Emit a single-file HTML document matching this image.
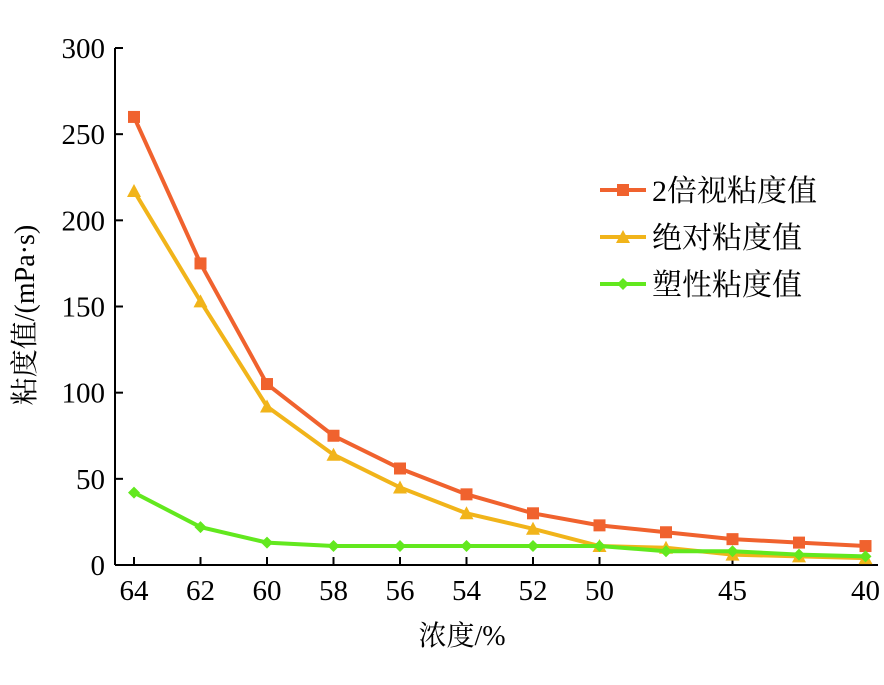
<!DOCTYPE html>
<html><head><meta charset="utf-8"><style>
body{margin:0;background:#fff}
svg text{font-family:"Liberation Serif","Noto Serif CJK SC",serif;fill:#000}
</style></head><body>
<svg id="c" width="884" height="680"></svg>
<script>
const categories=["64","62","60","58","56","54","52","50","47.5","45","42.5","40"];
const xTickLabels=["64","62","60","58","56","54","52","50","","45","","40"];
const yTicks=[0,50,100,150,200,250,300];
const apparent2x=[260,175,105,75,56,41,30,23,19,15,13,11];
const absolute=[217,153,92,64,45,30,21,11,10,6,5,4];
const plastic=[42,22,13,11,11,11,11,11,8,8,6,5];
const seriesNames=["2倍视粘度值","绝对粘度值","塑性粘度值"];
const NS="http://www.w3.org/2000/svg";
const svg=document.getElementById('c');
function el(t,a,p){const e=document.createElementNS(NS,t);for(const k in a)e.setAttribute(k,a[k]);(p||svg).appendChild(e);return e;}
const x0=134,dx=66.5,yBase=565,yTop=48;
const X=i=>x0+i*dx;
const Y=v=>yBase-(v/300)*(yBase-yTop);
let ax=el('line',{x1:115,y1:yTop,x2:115,y2:yBase,stroke:'#000','stroke-width':2});

let bx=el('line',{x1:115,y1:yBase,x2:878,y2:yBase,stroke:'#000','stroke-width':2});

yTicks.forEach(v=>{
 el('line',{x1:115,y1:Y(v),x2:123,y2:Y(v),stroke:'#000','stroke-width':2});
 const t=el('text',{x:105,y:Y(v)+10,'text-anchor':'end','font-size':29});t.textContent=v;
 
});
categories.forEach((c,i)=>{
 if(!xTickLabels[i])return;
 el('line',{x1:X(i),y1:yBase,x2:X(i),y2:yBase-8,stroke:'#000','stroke-width':2});
 const t=el('text',{x:X(i),y:yBase+35,'text-anchor':'middle','font-size':29});t.textContent=xTickLabels[i];
 
});
let xt=el('text',{x:462,y:645,'text-anchor':'middle','font-size':28});xt.textContent='浓度/%';

let yt=el('text',{x:0,y:0,'text-anchor':'middle','font-size':28,transform:'translate(34,315) rotate(-90)'});yt.textContent='粘度值/(mPa·s)';

function marker(type,x,y,col,g){
 if(type==='sq')el('rect',{x:x-6,y:y-6,width:12,height:12,fill:col},g);
 else if(type==='tri')el('polygon',{points:`${x},${y-7} ${x-7},${y+6} ${x+7},${y+6}`,fill:col},g);
 else el('polygon',{points:`${x},${y-6} ${x+6},${y} ${x},${y+6} ${x-6},${y}`,fill:col},g);
}
const series=[[apparent2x,'#f0622e','sq'],[absolute,'#f1b41a','tri'],[plastic,'#62e81e','dia']];
series.forEach(([d,col,m],si)=>{
 const g=el('g',{});
 
 
 el('polyline',{points:d.map((v,i)=>X(i)+','+Y(v)).join(' '),fill:'none',stroke:col,'stroke-width':4},g);
 d.forEach((v,i)=>marker(m,X(i),Y(v),col,g));
 const ly=190+si*47;
 const lg=el('g',{});
 
 el('line',{x1:600,y1:ly,x2:646,y2:ly,stroke:col,'stroke-width':4},lg);
 marker(m,623,ly,col,lg);
 const t=el('text',{x:652,y:ly+11,'font-size':30},lg);t.textContent=seriesNames[si];
});
</script>
</body></html>
